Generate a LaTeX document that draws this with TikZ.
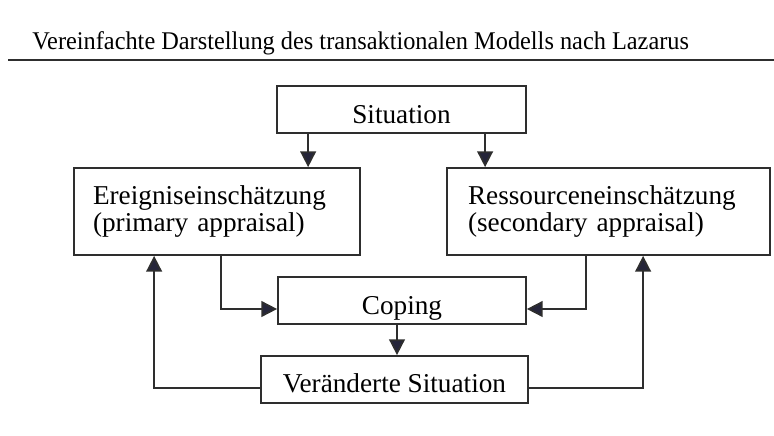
\documentclass[tikz,border=0pt]{standalone}
\usepackage{fontspec}
\setmainfont{Liberation Serif}
\newfontfamily\titlefont[FakeStretch=0.955]{Liberation Serif}
\usetikzlibrary{arrows.meta}
\definecolor{linegray}{HTML}{2E2E2E}
\definecolor{tipgray}{HTML}{25253A}
\tikzset{
	box/.style={draw=linegray,line width=1pt,inner sep=0pt,font=\fontsize{15.5}{15.4}\selectfont},
	onebox/.style={box,minimum height=0.94cm,text height=16pt,text depth=0pt},
	arr/.style={draw=linegray,line width=1pt,-{Triangle[length=9pt,width=9pt,fill=tipgray]}}
}
\begin{document}
	\begin{tikzpicture}[x=0.02cm,y=-0.02cm]
		\useasboundingbox (0,0) rectangle (774,436);
		\node[anchor=base west,font=\titlefont\fontsize{14.5}{17}\selectfont,inner sep=0pt] (title) at (32,50) {Vereinfachte Darstellung des transaktionalen Modells nach Lazarus};
		\draw[linegray,line width=1.1pt] (8,60) -- (774,60);
		% boxes
		\node[onebox,minimum width=4.98cm] (sit) at (401.5,109.5) {Situation};
		\node[box,minimum width=5.72cm,minimum height=1.74cm,text width=4.96cm,align=left] (ereig) at (217,211.5) {Ereigniseinschätzung\\(primary appraisal)};
		\node[box,minimum width=6.46cm,minimum height=1.74cm,text width=5.62cm,align=left] (ress) at (608.5,211.5) {Ressourceneinschätzung\\(secondary appraisal)};
		\node[onebox,minimum width=4.96cm] (cop) at (402,300.5) {Coping};
		\node[onebox,minimum width=5.34cm,text height=14.5pt] (ver) at (394.5,379.5) {Veränderte Situation};
		% arrows
		\draw[arr] ([xshift=0.64cm]sit.south west) coordinate (s1) -- (s1 |- ereig.north);
		\draw[arr] ([xshift=4.18cm]sit.south west) coordinate (s2) -- (s2 |- ress.north);
		\draw[arr] ([xshift=2.96cm]ereig.south west) |- ([yshift=-0.17cm]cop.west);
		\draw[arr] ([xshift=2.8cm]ress.south west) |- ([yshift=-0.17cm]cop.east);
		\draw[arr] ([xshift=-0.1cm]cop.south) coordinate (c1) -- (c1 |- ver.north);
		\draw[arr] ([yshift=-0.17cm]ver.west) -| ([xshift=1.62cm]ereig.south west);
		\draw[arr] ([yshift=-0.17cm]ver.east) -| ([xshift=3.94cm]ress.south west);
	\end{tikzpicture}
\end{document}
